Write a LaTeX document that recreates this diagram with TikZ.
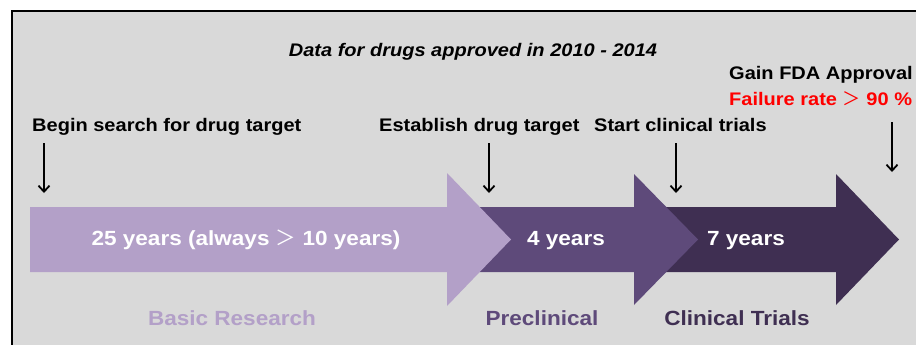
\documentclass[tikz,border=0pt]{standalone}
\usepackage{fontspec}
\setmainfont{Liberation Sans}[FakeStretch=1.1]
\newfontfamily\cjk{Noto Sans CJK SC}
\usetikzlibrary{arrows.meta}

\definecolor{panelgray}{HTML}{D9D9D9}
\definecolor{basicpurple}{HTML}{B3A0C8}
\definecolor{precpurple}{HTML}{5E4A7A}
\definecolor{clinpurple}{HTML}{3F2F52}
\definecolor{failred}{HTML}{FF0000}

\begin{document}
\begin{tikzpicture}
[
  x=1pt, y=-1pt,
  mark label/.style={inner sep=0pt, anchor=base west, font=\fontsize{18.2}{20}\selectfont\bfseries},
  stage label/.style={inner sep=0pt, anchor=base, font=\fontsize{20.5}{22}\selectfont\bfseries},
  drop/.style={-{Straight Barb[length=6pt,width=11pt]}, line width=1.8pt}
]

\useasboundingbox (0,0) rectangle (916,345);
\fill[panelgray] (12,11) rectangle (916,345);
\draw[line width=2pt] (12,345) -- (12,11) -- (916,11);

% block arrows, back to front
\fill[clinpurple] (650,207) -- (836,207) -- (836,174) -- (899,239.5)
  -- (836,305) -- (836,272) -- (650,272) -- cycle;
\fill[precpurple] (460,207) -- (634,207) -- (634,174) -- (698,239.5)
  -- (634,305) -- (634,272) -- (460,272) -- cycle;
\fill[basicpurple] (30,207) -- (447,207) -- (447,173) -- (511,239.5)
  -- (447,306) -- (447,272) -- (30,272) -- cycle;

\node[mark label, anchor=base, font=\fontsize{18.2}{20}\selectfont\bfseries\itshape]
  (title) at (473,57) {Data for drugs approved in 2010 - 2014};

\node[mark label] (begin) at (32,131) {Begin search for drug target};
\node[mark label] (establish) at (379,131) {Establish drug target};
\node[mark label] (start) at (594,131) {Start clinical trials};
\node[mark label] (gain) at (729,80) {Gain FDA Approval};
\node[mark label, text=failred] (fail) at (729,105) {Failure rate {\cjk\mdseries ＞} 90 \%};

\node[stage label, text=white] (basicyears) at (246,245) {25 years (always {\cjk\mdseries ＞} 10 years)};
\node[stage label, text=white] (precyears) at (566,245) {4 years};
\node[stage label, text=white] (clinyears) at (746,245) {7 years};

\node[stage label, text=basicpurple] (basic) at (232,325) {Basic Research};
\node[stage label, text=precpurple] (prec) at (542,325) {Preclinical};
\node[stage label, text=clinpurple] (clin) at (737,325) {Clinical Trials};

% markers
\coordinate (s1) at (44,143);  \coordinate (e1) at (44,193);
\coordinate (s2) at (489,143); \coordinate (e2) at (489,193);
\coordinate (s3) at (676,143); \coordinate (e3) at (676,193);
\coordinate (s4) at (892,122); \coordinate (e4) at (892,172);

\draw[drop] (s1) -- (e1);
\draw[drop] (s2) -- (e2);
\draw[drop] (s3) -- (e3);
\draw[drop] (s4) -- (e4);
\end{tikzpicture}
\end{document}
